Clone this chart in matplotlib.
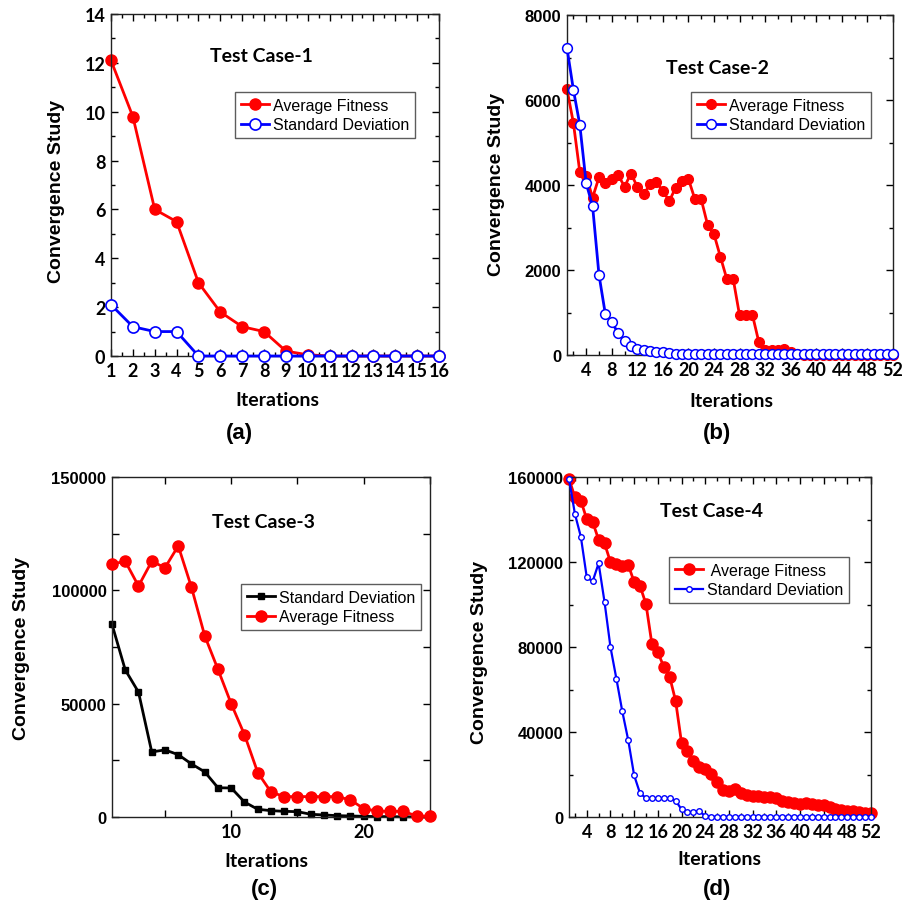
import matplotlib
matplotlib.use("Agg")
import matplotlib.pyplot as plt
from matplotlib.ticker import MultipleLocator, FixedLocator

# ---------------- data ----------------
# (a) Test Case-1
a_iter = list(range(1, 17))
a_avg = [12.1, 9.8, 6.0, 5.5, 3.0, 1.8, 1.2, 1.0, 0.2, 0.05, 0, 0, 0, 0, 0, 0]
a_sd = [2.1, 1.2, 1.0, 1.0, 0, 0, 0, 0, 0, 0, 0, 0, 0, 0, 0, 0]

# (b) Test Case-2
b_iter = list(range(1, 53))
b_avg = [6250, 5460, 4310, 4220, 3700, 4180, 4050, 4140, 4240, 3960,
         4270, 3960, 3780, 4020, 4060, 3860, 3620, 3940, 4090, 4140,
         3670, 3660, 3060, 2840, 2310, 1790, 1790, 930, 930, 950,
         310, 120, 120, 120, 130, 60, 20, 10, 10, 10,
         10, 10, 10, 10, 10, 10, 10, 10, 10, 10, 10, 10]
b_sd = [7220, 6240, 5420, 4040, 3510, 1890, 960, 780, 510, 340,
        220, 140, 110, 95, 80, 60, 45, 35, 30, 25,
        20, 20, 20, 20, 20, 20, 20, 20, 20, 20,
        20, 20, 20, 20, 20, 20, 20, 20, 20, 20,
        20, 20, 20, 20, 20, 20, 20, 20, 20, 20, 20, 20]

# (c) Test Case-3
c_iter = list(range(1, 26))
c_sd = [85000, 64900, 55100, 28700, 29600, 27500, 23400, 19900, 12900, 12800,
        6600, 3400, 2800, 2500, 2350, 1200, 900, 600, 450, 300,
        200, 150, 100, 50, 0]
c_avg = [111600, 112800, 101900, 112800, 110000, 119600, 101300, 79900, 65100, 49900,
         36300, 19600, 11000, 9000, 9000, 9000, 9000, 9000, 7500, 3700,
         2600, 2500, 2500, 400, 400]

# (d) Test Case-4
d_iter = list(range(1, 53))
d_avg = [159200, 150400, 148900, 140100, 138800, 130500, 128800, 120000, 119100, 118100,
         118700, 110600, 108700, 100200, 81400, 77600, 70700, 66000, 54700, 35000,
         31200, 26500, 23700, 22700, 20200, 16500, 12700, 12100, 13000, 11500,
         10500, 9900, 9900, 9600, 9600, 8900, 7700, 7100, 6400, 6100,
         6700, 6100, 5800, 5500, 4500, 3900, 3300, 3000, 2700, 2400, 2000, 1700]
d_sd = [159200, 142600, 131900, 112800, 110900, 119400, 101200, 80000, 65100, 49700,
        36200, 19600, 11100, 8900, 8900, 8900, 8900, 8900, 7700, 3600,
        2400, 2400, 2700, 500, 200, 100, 100, 100, 100, 100,
        100, 100, 100, 100, 100, 100, 100, 100, 100, 100,
        100, 100, 100, 100, 100, 100, 100, 100, 100, 100, 100, 100]

# ---------------- styling ----------------
CAL = ["Lato", "DejaVu Sans"]
ARI = ["Liberation Sans", "DejaVu Sans"]
RED = "#ff0000"
BLUE = "#0000ff"

fig = plt.figure(figsize=(9.12, 9.12), dpi=100)


def px(l, t, r, b):
    return [l / 912, 1 - b / 912, (r - l) / 912, (b - t) / 912]


def style_axes(ax, tickfont, size=13):
    ax.tick_params(which="both", direction="in", top=True, right=True, width=1)
    ax.tick_params(which="major", length=5, pad=4)
    ax.tick_params(which="minor", length=3)
    for lab in ax.get_xticklabels() + ax.get_yticklabels():
        lab.set_family(tickfont)
        lab.set_fontweight("bold")
        lab.set_fontsize(size)
    for s in ax.spines.values():
        s.set_linewidth(1.0)
        s.set_color("#222222")


def add_legend(ax, l, t, box, prefix_space=False):
    L, T, R, B = box
    leg = ax.legend(loc="upper left", bbox_to_anchor=((l - L) / (R - L), (B - t) / (B - T)),
                    prop={"family": ARI, "size": 11.5}, frameon=True, fancybox=False,
                    edgecolor="#333333", borderpad=0.35, handlelength=1.8, handletextpad=0.25,
                    labelspacing=0.3, borderaxespad=0)
    leg.get_frame().set_linewidth(1.0)
    return leg


def title(x, y, s):
    fig.text(x / 912, 1 - y / 912, s, ha="center", va="center",
             family=CAL, fontweight="bold", fontsize=14)


# ---- (a)
box = (111, 15, 439, 357)
ax = fig.add_axes(px(*box))
ax.plot(a_iter, a_avg, "-o", color=RED, lw=2, ms=8, mfc=RED, mec=RED, label="Average Fitness", zorder=2)
ax.plot(a_iter, a_sd, "-o", color=BLUE, lw=2, ms=8, mfc="white", mec=BLUE, mew=1.2, label="Standard Deviation", zorder=3)
ax.set_xlim(1, 16)
ax.set_ylim(0, 14)
ax.xaxis.set_major_locator(MultipleLocator(1))
ax.xaxis.set_minor_locator(MultipleLocator(0.5))
ax.yaxis.set_major_locator(MultipleLocator(2))
ax.yaxis.set_minor_locator(MultipleLocator(1))
for l in ax.lines:
    l.set_clip_on(False)
style_axes(ax, CAL)
title(261, 57, "Test Case-1")
add_legend(ax, 235, 93, box)

# ---- (b)
box = (567, 16, 893, 356)
ax = fig.add_axes(px(*box))
ax.plot(b_iter, b_avg, "-o", color=RED, lw=2, ms=7, mfc=RED, mec=RED, label="Average Fitness", zorder=2)
ax.plot(b_iter, b_sd, "-o", color=BLUE, lw=2, ms=7, mfc="white", mec=BLUE, mew=1.1, label="Standard Deviation", zorder=3)
ax.set_xlim(1, 52)
ax.set_ylim(0, 8000)
ax.xaxis.set_major_locator(FixedLocator(list(range(4, 53, 4))))
ax.xaxis.set_minor_locator(FixedLocator(list(range(2, 53, 2))))
ax.yaxis.set_major_locator(MultipleLocator(2000))
ax.yaxis.set_minor_locator(MultipleLocator(1000))
for l in ax.lines:
    l.set_clip_on(False)
style_axes(ax, CAL)
for lab in ax.get_yticklabels():
    lab.set_family(ARI)
    lab.set_fontsize(12)
title(717, 68, "Test Case-2")
add_legend(ax, 691, 93, box)

# ---- (c)
box = (112, 478, 430, 818)
ax = fig.add_axes(px(*box))
ax.plot(c_iter, c_sd, "-s", color="black", lw=2, ms=5, label="Standard Deviation", zorder=2)
ax.plot(c_iter, c_avg, "-o", color=RED, lw=2, ms=8, mfc=RED, mec=RED, label="Average Fitness", zorder=3)
ax.set_xlim(1, 25)
ax.set_ylim(0, 150000)
ax.xaxis.set_major_locator(FixedLocator([5, 10, 15, 20, 25]))
ax.yaxis.set_major_locator(FixedLocator([0, 25000, 50000, 75000, 100000, 125000, 150000]))
for l in ax.lines:
    l.set_clip_on(False)
style_axes(ax, ARI)
ax.set_xticklabels(["", "10", "", "20", ""], family=CAL, fontweight="bold", fontsize=13)
ax.set_yticklabels(["0", "", "50000", "", "100000", "", "150000"], family=ARI, fontweight="bold", fontsize=12)
title(263, 523, "Test Case-3")
add_legend(ax, 241, 585, box)

# ---- (d)
box = (569, 478, 871, 818)
ax = fig.add_axes(px(*box))
ax.plot(d_iter, d_avg, "-o", color=RED, lw=2, ms=8, mfc=RED, mec=RED, label=" Average Fitness", zorder=2)
ax.plot(d_iter, d_sd, "-o", color=BLUE, lw=1.6, ms=4, mfc="white", mec=BLUE, mew=1.0, label="Standard Deviation", zorder=3)
ax.set_xlim(1, 52)
ax.set_ylim(0, 160000)
ax.xaxis.set_major_locator(FixedLocator(list(range(4, 53, 4))))
ax.xaxis.set_minor_locator(FixedLocator(list(range(2, 53, 2))))
ax.yaxis.set_major_locator(MultipleLocator(40000))
ax.yaxis.set_minor_locator(MultipleLocator(20000))
for l in ax.lines:
    l.set_clip_on(False)
style_axes(ax, CAL)
for lab in ax.get_yticklabels():
    lab.set_family(ARI)
    lab.set_fontsize(12)
title(712, 512, "Test Case-4")
add_legend(ax, 669, 558, box)

# ---- axis labels & panel labels (figure coordinates)
ylab = [(57, 191), (497, 184), (22, 648), (480, 652)]
xlab = [(277, 401), (731, 402), (266, 862), (719, 860)]
plab = [(239, 434, "(a)"), (717, 434, "(b)"), (264, 890, "(c)"), (717, 890, "(d)")]
for x, y in ylab:
    fig.text(x / 912, 1 - y / 912, "Convergence Study", rotation=90, ha="center", va="center",
             family=ARI, fontweight="bold", fontsize=14)
for x, y in xlab:
    fig.text(x / 912, 1 - y / 912, "Iterations", ha="center", va="center",
             family=CAL, fontweight="bold", fontsize=14)
for x, y, t in plab:
    fig.text(x / 912, 1 - y / 912, t, ha="center", va="center",
             family=ARI, fontweight="bold", fontsize=16)

fig.savefig("out.png", dpi=100)
